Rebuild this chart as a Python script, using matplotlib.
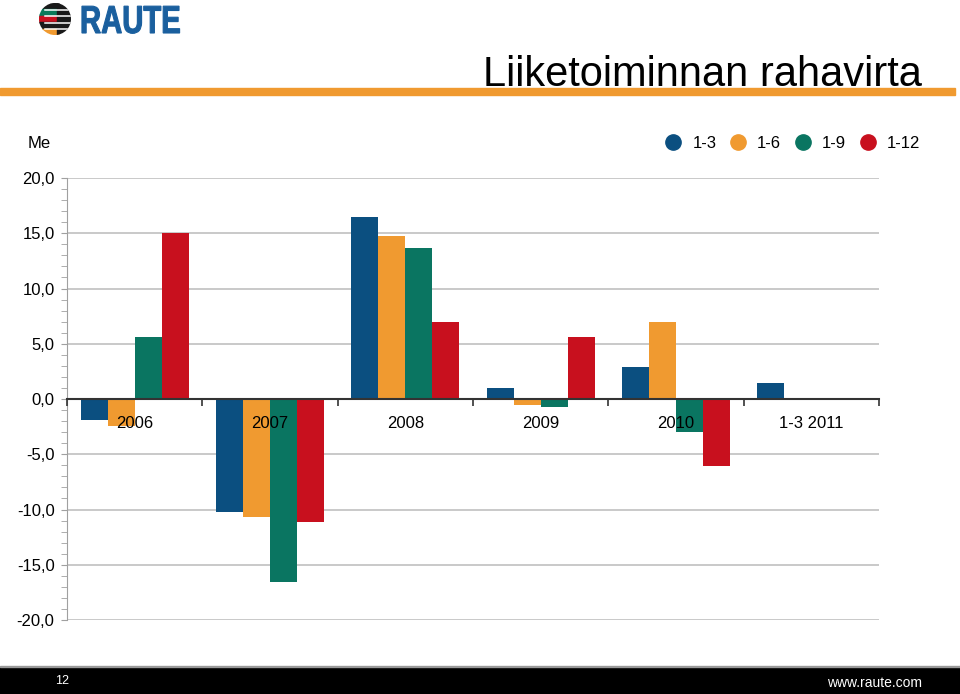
import matplotlib.pyplot as plt
import matplotlib.patches as mpatches
from matplotlib.lines import Line2D
from matplotlib.textpath import TextPath
from matplotlib.font_manager import FontProperties
from matplotlib.transforms import Affine2D
from matplotlib.ticker import MultipleLocator, FuncFormatter
import numpy as np

plt.rcParams['font.family'] = ['Liberation Sans', 'DejaVu Sans']

categories = ['2006', '2007', '2008', '2009', '2010', '1-3 2011']
series_names = ['1-3', '1-6', '1-9', '1-12']
q1 = [-1.9, -10.2, 16.5, 1.0, 2.9, 1.45]
q2 = [-2.4, -10.7, 14.75, -0.5, 7.0, None]
q3 = [5.6, -16.6, 13.7, -0.7, -3.0, None]
q4 = [15.0, -11.1, 7.0, 5.6, -6.1, None]
colors = ['#0b4f80', '#f09a30', '#0a7561', '#c8101e']

fig = plt.figure(figsize=(9.6, 6.94), dpi=100)
ax = fig.add_axes([0.0698, 0.1066, 0.8458, 0.6369])
ax.set_axisbelow(False)  # category labels sit on top of the bars

x = np.arange(len(categories))
width = 0.2
for i, (vals, c) in enumerate(zip([q1, q2, q3, q4], colors)):
    xs = [xi + (i - 1.5) * width for xi, v in zip(x, vals) if v is not None]
    ys = [v for v in vals if v is not None]
    ax.bar(xs, ys, width, color=c, zorder=2, label=series_names[i])

ax.set_xlim(-0.5, len(categories) - 0.5)
ax.set_ylim(-20, 20)

# y axis
ax.yaxis.set_major_locator(MultipleLocator(5))
ax.yaxis.set_minor_locator(MultipleLocator(1))
ax.yaxis.set_major_formatter(FuncFormatter(lambda v, p: ('%.1f' % v).replace('.', ',')))
ax.tick_params(axis='y', which='both', length=4, color='#a0a0a0', labelsize=12, pad=5)
for v in range(-20, 21, 5):
    if v != 0:
        ax.axhline(v, color='#c0c0c0', lw=1.2, zorder=1)

# x axis at zero
ax.spines['bottom'].set_position(('data', 0))
ax.spines['bottom'].set_color('#333333')
ax.spines['bottom'].set_linewidth(1.5)
ax.spines['bottom'].set_zorder(4)
ax.spines['left'].set_color('#a0a0a0')
ax.spines['top'].set_visible(False)
ax.spines['right'].set_visible(False)
ax.set_xticks(x)
ax.set_xticklabels(categories)
ax.set_xticks(np.arange(-0.5, len(categories)), minor=True)
ax.tick_params(axis='x', which='major', length=0, labelsize=12, pad=12)
ax.tick_params(axis='x', which='minor', length=5, color='#333333', width=1.2)

fig.text(28 / 960, 1 - 143 / 694, 'Me', fontsize=12, va='center', ha='left')

handles = [Line2D([], [], marker='o', ls='', markersize=11, color=c) for c in colors]
fig.legend(handles, series_names, loc='center right', bbox_to_anchor=(927 / 960, 1 - 143 / 694),
           ncol=4, frameon=False, fontsize=12, handletextpad=0.55, columnspacing=0.7,
           handlelength=1.2, borderaxespad=0)

# title and header bar
fig.text(922 / 960, 1 - 75 / 694, 'Liiketoiminnan rahavirta', fontsize=30,
         ha='right', va='center')
fig.add_artist(mpatches.Rectangle((0, 1 - 95 / 694), 955 / 960, 7 / 694,
                                  transform=fig.transFigure, color='#f09a30'))

# logo, drawn in pixel coordinates
lax = fig.add_axes([0, 1 - 45 / 694, 200 / 960, 45 / 694])
lax.set_xlim(0, 200)
lax.set_ylim(45, 0)
lax.axis('off')
circ = mpatches.Circle((55, 19), 16, transform=lax.transData)
stripes = ['#1a1a1a', '#0a7a5a', '#c8101e', '#1a1a1a', '#f09a30']
for k, sc in enumerate(stripes):
    r = mpatches.Rectangle((39, 3 + k * 6.4), 20, 6.4, color=sc)
    lax.add_patch(r)
    r.set_clip_path(circ)
dark = mpatches.Rectangle((57, 0), 20, 40, color='#1a1a1a')
lax.add_patch(dark)
dark.set_clip_path(circ)
for yy in [9.5, 16, 22.5, 29]:
    ln, = lax.plot([45, 72], [yy, yy], color='white', lw=1.1)
    ln.set_clip_path(circ)
tp = TextPath((0, 0), 'RAUTE', size=39, prop=FontProperties(family='Liberation Sans', weight='bold'))
tp = tp.transformed(Affine2D().scale(0.75, -1).translate(80, 33))
lax.add_patch(mpatches.PathPatch(tp, facecolor='#1a5f9e', edgecolor='#1a5f9e', lw=0.8))

# footer
fig.add_artist(mpatches.Rectangle((0, 0), 1, 27 / 694, transform=fig.transFigure, color='black'))
fig.add_artist(mpatches.Rectangle((0, 27 / 694), 1, 1.5 / 694, transform=fig.transFigure, color='#999999'))
fig.text(55 / 960, 1 - 681 / 694, '12', color='white', fontsize=9, va='center')
fig.text(922 / 960, 1 - 683 / 694, 'www.raute.com', color='white', fontsize=10, va='center', ha='right')

fig.savefig('out.png', dpi=100)
